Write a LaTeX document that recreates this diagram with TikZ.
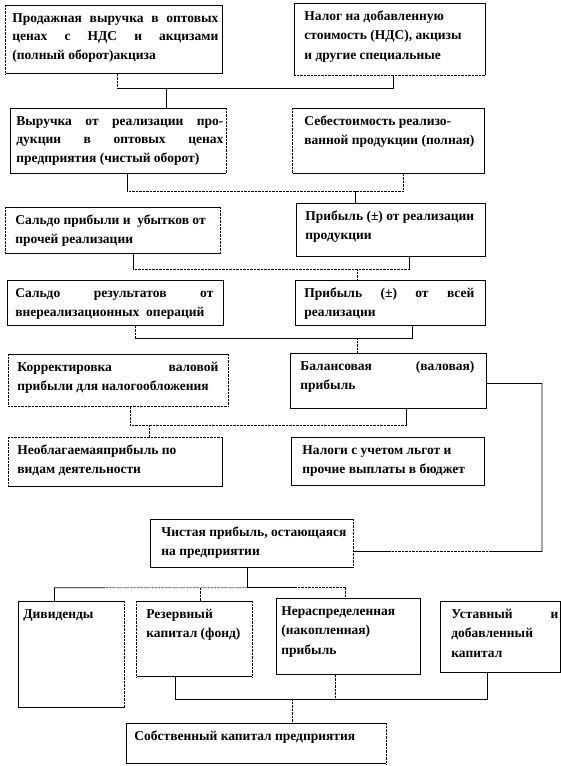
\documentclass[tikz,border=0pt]{standalone}
\usepackage{fontspec}
\setmainfont{Liberation Serif}
\usetikzlibrary{calc}
\tikzset{
  box/.style={draw, line width=0.8pt, inner sep=0pt, anchor=north west,
    font=\bfseries\fontsize{13.5}{19.5}\selectfont},
  tight/.style={font=\bfseries\fontsize{13.5}{18.5}\selectfont},
  ln/.style={line width=0.8pt},
  dl/.style={line width=0.7pt, dash pattern=on 0.7pt off 0.7pt},
  wipe/.style={white, line width=1.5pt}
}
\newcommand\bt[5]{\hspace*{#1pt}\parbox[c][#4pt][t]{\dimexpr#3pt-#1pt-#2pt\relax}{\rule{0pt}{17pt}#5}\hspace*{#2pt}}
\newcommand\dside[2]{\draw[wipe] (#1) -- (#2); \draw[dl] (#1) -- (#2);}
\begin{document}
\begin{tikzpicture}[x=1pt, y=-1pt]
\useasboundingbox (0,0) rectangle (561,766);
\fill[white] (0,0) rectangle (561,766);

% boxes
\node[box, tight] (b1) at (5,5) {\bt{7}{4}{217}{68}{Продажная выручка в оптовых\linebreak ценах с НДС и акцизами\linebreak (полный оборот)акциза}};
\node[box] (b2) at (294,3) {\bt{10}{4}{191}{72}{Налог на добавленную\\ стоимость (НДС), акцизы\\ и другие специальные}};
\node[box, tight] (b3) at (10,108) {\bt{6}{3}{216}{65}{Выручка от реализации про-\linebreak дукции в оптовых ценах\linebreak предприятия (чистый оборот)}};
\node[box] (b4) at (292,108) {\bt{12}{4}{192}{65}{Себестоимость реализо-\\ ванной продукции (полная)}};
\node[box] (b5) at (5,207) {\bt{10}{4}{215}{46}{Сальдо прибыли и\ \ убытков от\\ прочей реализации}};
\node[box] (b6) at (296,203) {\bt{9}{4}{189}{53}{Прибыль (±) от реализации\\ продукции}};
\node[box] (b7) at (7,280) {\bt{8}{10}{216}{45}{Сальдо результатов от\linebreak внереализационных\ \ операций}};
\node[box] (b8) at (295,280) {\bt{9}{11}{190}{45}{Прибыль (±) от всей\linebreak реализации}};
\node[box] (b9) at (8,354) {\bt{9}{10}{220}{52}{Корректировка валовой\linebreak прибыли для налогообложения}};
\node[box] (b10) at (290,353) {\bt{10}{12}{196}{55}{Балансовая (валовая)\linebreak прибыль}};
\node[box] (b11) at (8,437) {\bt{9}{4}{214}{49}{Необлагаемаяприбыль по\\ видам деятельности}};
\node[box] (b12) at (291,437) {\bt{11}{4}{193}{48}{Налоги с учетом льгот и\\ прочие выплаты в бюджет}};
\node[box] (b13) at (150,519) {\bt{11}{2}{203}{48}{Чистая прибыль, остающаяся\\ на предприятии}};
\node[box] (b14) at (18,601) {\bt{5}{4}{106}{106}{Дивиденды}};
\node[box] (b15) at (136,601) {\bt{10}{4}{116}{75}{Резервный\\ капитал (фонд)}};
\node[box] (b16) at (276,598) {\bt{5}{4}{144}{76}{Нераспределенная\\ (накопленная)\\ прибыль}};
\node[box] (b17) at (440,601) {\bt{11}{2}{120}{71}{Уставный и\linebreak добавленный\\ капитал}};
\node[box] (b18) at (126,723) {\bt{8}{4}{260}{40}{Собственный капитал предприятия}};

% dotted box sides
\dside{b1.north west}{b1.south west}
\dside{b2.south west}{b2.south east}
\dside{b3.north east}{b3.south east}
\dside{b4.north west}{b4.south west}
\dside{b5.north west}{b5.south west}
\dside{b5.north east}{b5.south east}
\dside{b9.north west}{b9.south west}
\dside{b9.north east}{b9.south east}
\dside{b9.south west}{b9.south east}
\dside{b11.north west}{b11.south west}
\dside{b11.north west}{b11.north east}
\dside{b13.north east}{b13.south east}
\dside{b14.north east}{b14.south east}
\dside{b15.north west}{b15.south west}
\dside{b15.north east}{b15.south east}
\dside{b18.north east}{b18.south east}

% connector 1
\coordinate (a1) at ([xshift=3.5pt]b1.south);
\coordinate (a2) at ([xshift=3.5pt]b2.south);
\coordinate (j1) at (166,88);
\draw[dl] (a1) -- (a1 |- j1);
\draw[ln] (a1 |- j1) -- (a2 |- j1) -- (a2);
\draw[ln] (j1) -- (j1 |- b3.north);

% connector 2
\coordinate (a3) at ([xshift=9pt]b3.south);
\coordinate (a4) at ([xshift=15pt]b4.south);
\coordinate (j2) at (355,191);
\draw[ln] (a3) -- (a3 |- j2);
\draw[dl] (a3 |- j2) -- (a4 |- j2) -- (a4);
\draw[ln] (j2) -- (j2 |- b6.north);

% connector 3
\coordinate (a5) at ([xshift=20.5pt]b5.south);
\coordinate (a6) at ([xshift=18.5pt]b6.south);
\coordinate (j3) at (357,269);
\draw[ln] (a5) -- (a5 |- j3);
\draw[dl] (a5 |- j3) -- (a6 |- j3);
\draw[ln] (a6 |- j3) -- (a6);
\draw[dl] (j3) -- (j3 |- b8.north);

% connector 4
\coordinate (a7) at ([xshift=20pt]b7.south);
\coordinate (a8) at ([xshift=22pt]b8.south);
\coordinate (j4) at (357,338);
\draw[dl] (a7) -- (a7 |- j4);
\draw[ln] (a7 |- j4) -- (a8 |- j4) -- (a8);
\draw[dl] (j4) -- (j4 |- b10.north);

% connector 5
\coordinate (a9) at ([xshift=12pt]b9.south);
\coordinate (a10) at ([xshift=18pt]b10.south);
\coordinate (j5) at (149,425);
\draw[dl] (a9) -- (a9 |- j5) -- (a10 |- j5);
\draw[ln] (a10 |- j5) -- (a10);
\draw[dl] (j5) -- (j5 |- b11.north);

% connector 6 (balance profit -> net profit)
\coordinate (a10r) at ([yshift=-2.5pt]b10.east);
\coordinate (a13r) at ([yshift=-8pt]b13.east);
\coordinate (k1) at (542,0);
\coordinate (m1) at ($(a13r)!0.2!(a13r -| k1)$);
\coordinate (m2) at ($(a13r)!0.72!(a13r -| k1)$);
\draw[ln] (a10r) -- (a10r -| k1) -- (a13r -| k1) -- (m2);
\draw[dl] (m2) -- (m1);
\draw[ln] (m1) -- (a13r);

% connector 7 (net profit -> distribution)
\coordinate (a13) at ([xshift=-4.5pt]b13.south);
\coordinate (j7) at ([yshift=-20pt]a13);
\coordinate (t14) at ([xshift=-17pt]b14.north);
\coordinate (t15) at ([xshift=6pt]b15.north);
\coordinate (t16) at ([xshift=-3pt]b16.north);
\coordinate (n1) at ($(t14 |- j7)!0.26!(j7)$);
\coordinate (n2) at ($(j7)!0.5!(t16 |- j7)$);
\draw[ln] (a13) -- (j7);
\draw[ln] (t14) -- (t14 |- j7) -- (n1);
\draw[dl] (n1) -- (j7);
\draw[ln] (j7) -- (n2);
\draw[dl] (n2) -- (t16 |- j7) -- (t16);
\draw[dl] (t15 |- j7) -- (t15);

% connector 8 (-> own capital)
\coordinate (u15) at ([xshift=-19pt]b15.south);
\coordinate (u16) at ([xshift=-13pt]b16.south);
\coordinate (u17) at ([xshift=-13pt]b17.south);
\coordinate (v18) at ([xshift=36pt]b18.north);
\coordinate (j8) at ([yshift=24pt]v18);
\draw[ln] (u15) -- (u15 |- j8) -- (u17 |- j8) -- (u17);
\draw[dl] (u16) -- (u16 |- j8);
\draw[dl] (j8) -- (v18);
\end{tikzpicture}
\end{document}
